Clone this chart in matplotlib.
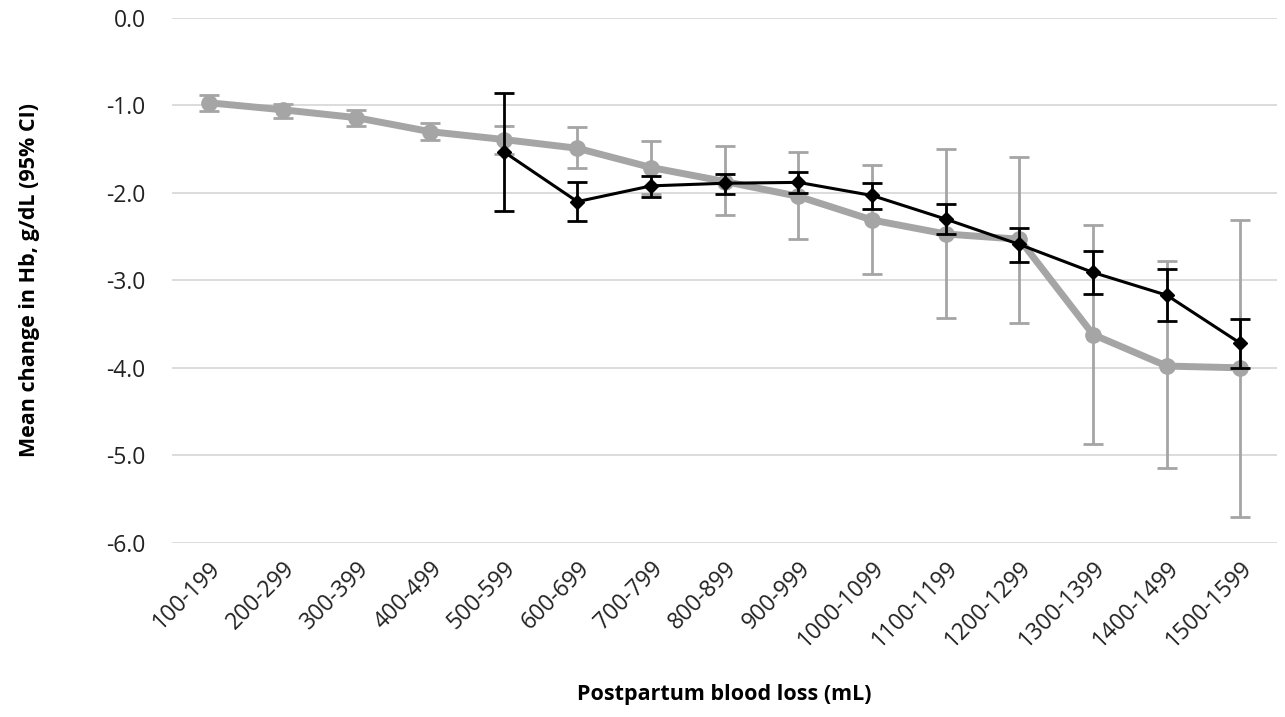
import matplotlib.pyplot as plt
import numpy as np

cats = ['100-199', '200-299', '300-399', '400-499', '500-599', '600-699',
        '700-799', '800-899', '900-999', '1000-1099', '1100-1199',
        '1200-1299', '1300-1399', '1400-1499', '1500-1599']

# gray series: mean, lower CI, upper CI
gray_mean = [-0.97, -1.05, -1.14, -1.30, -1.39, -1.49, -1.71, -1.87, -2.04,
             -2.31, -2.47, -2.53, -3.62, -3.98, -4.00]
gray_lo = [-1.06, -1.14, -1.23, -1.40, -1.55, -1.72, -2.01, -2.25, -2.53,
           -2.93, -3.43, -3.49, -4.87, -5.15, -5.70]
gray_hi = [-0.88, -0.98, -1.05, -1.20, -1.23, -1.25, -1.41, -1.46, -1.53,
           -1.68, -1.50, -1.59, -2.37, -2.78, -2.31]

# black series starts at 500-599
black_mean = [-1.53, -2.10, -1.92, -1.89, -1.88, -2.03, -2.30, -2.59,
              -2.91, -3.17, -3.72]
black_lo = [-2.21, -2.32, -2.05, -2.01, -2.00, -2.18, -2.47, -2.79,
            -3.16, -3.46, -4.00]
black_hi = [-0.86, -1.88, -1.81, -1.78, -1.76, -1.89, -2.13, -2.40,
            -2.67, -2.87, -3.44]

plt.rcParams['font.family'] = ['Open Sans', 'DejaVu Sans']

fig = plt.figure(figsize=(12.85, 7.17), dpi=100)
ax = fig.add_axes([0.134, 0.243, 0.86, 0.732])

x = np.arange(len(cats))
gm = np.array(gray_mean)
ax.errorbar(x, gm, yerr=[gm - np.array(gray_lo), np.array(gray_hi) - gm],
            color='#A5A5A5', lw=5, marker='o', ms=11, ecolor='#A5A5A5',
            elinewidth=2, capsize=7, capthick=2, zorder=3)

xb = x[4:]
bm = np.array(black_mean)
ax.errorbar(xb, bm, yerr=[bm - np.array(black_lo), np.array(black_hi) - bm],
            color='black', lw=2.2, marker='D', ms=7, ecolor='black',
            elinewidth=2, capsize=7, capthick=2, zorder=4)

ax.set_xlim(-0.5, len(cats) - 0.5)
ax.set_ylim(-6.0, 0.0)
ax.set_yticks(np.arange(-6, 0.5, 1.0))
ax.set_yticklabels(['%.1f' % v for v in np.arange(-6, 0.5, 1.0)], fontsize=16.5)
ax.set_xticks(x)
ax.set_xticklabels(cats, rotation=45, ha='right', rotation_mode='anchor',
                   fontsize=16.5)
ax.tick_params(axis='y', length=0, pad=19, colors='#222222')
ax.tick_params(axis='x', length=0, pad=10, colors='#222222')
ax.yaxis.grid(True, color='#D9D9D9', lw=1.3)
ax.set_axisbelow(True)
for s in ax.spines.values():
    s.set_visible(False)
ax.set_ylabel('Mean change in Hb, g/dL (95% CI)', fontsize=15.5,
              fontweight='bold')
ax.set_xlabel('Postpartum blood loss (mL)', fontsize=15.5, fontweight='bold')
ax.yaxis.set_label_coords(-0.12, 0.5)
ax.xaxis.set_label_coords(0.5, -0.27)

fig.savefig('out.png')
